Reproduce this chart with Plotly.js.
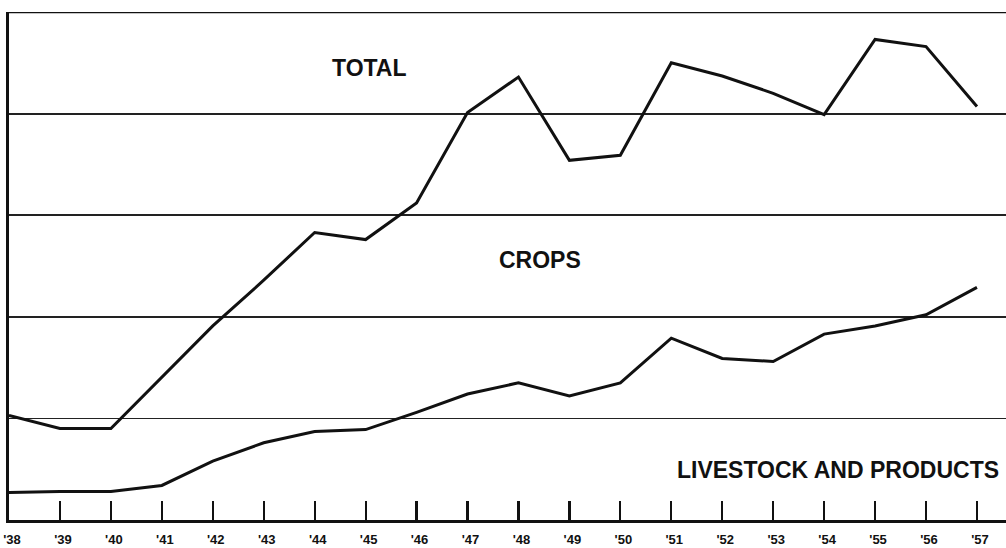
<!DOCTYPE html>
<html>
<head>
<meta charset="utf-8">
<script src="https://cdn.plot.ly/plotly-3.0.1.min.js"></script>
<style>html,body{margin:0;padding:0;background:#fff;}#chart{width:1006px;height:548px;}</style>
</head>
<body>
<div id="chart"></div>
<script>
// Years and tick labels
const years = [1938,1939,1940,1941,1942,1943,1944,1945,1946,1947,1948,1949,1950,1951,1952,1953,1954,1955,1956,1957];
const tickLabels = ["'38","'39","'40","'41","'42","'43","'44","'45","'46","'47","'48","'49","'50","'51","'52","'53","'54","'55","'56","'57"];
// Upper curve: total (in grid-line units)
const totalValues = [1.03,0.90,0.90,1.40,1.91,2.36,2.83,2.76,3.12,4.01,4.36,3.54,3.59,4.50,4.37,4.20,3.99,4.73,4.66,4.07];
// Lower curve: livestock and products (in grid-line units)
const livestockValues = [0.27,0.28,0.28,0.34,0.58,0.76,0.87,0.89,1.06,1.24,1.35,1.22,1.35,1.79,1.59,1.56,1.83,1.91,2.02,2.29];
const labelTotal = "TOTAL";
const labelCrops = "CROPS";
const labelLivestock = "LIVESTOCK AND PRODUCTS";

const lineStyle = {color:'#111', width:3};
const traces = [
  {x: years, y: totalValues, type:'scatter', mode:'lines', line: lineStyle, name: labelTotal, hoverinfo:'skip'},
  {x: years, y: livestockValues, type:'scatter', mode:'lines', line: lineStyle, name: labelLivestock, hoverinfo:'skip'}
];

const labelFont = {family:'Liberation Sans, Arial, sans-serif', size:23, color:'#111', weight:'bold'};

const layout = {
  width:1006, height:548,
  margin:{l:9, r:0, t:12, b:28},
  paper_bgcolor:'#fff', plot_bgcolor:'#fff',
  showlegend:false,
  xaxis:{
    range:[1938, 1957.57],
    tickvals: years, ticktext: tickLabels,
    ticks:'inside', ticklen:19, tickwidth:2.2, tickcolor:'#111',
    showgrid:false, zeroline:false,
    showline:true, linecolor:'#111', linewidth:3,
    tickfont:{family:'Liberation Sans, Arial, sans-serif', size:13, color:'#111', weight:'bold'},
    ticklabelstandoff: 5,
    ticklabelshift: 3,
    fixedrange:true
  },
  yaxis:{
    range:[0,5],
    tickvals:[1,2,3,4], showticklabels:false, ticks:'',
    showgrid:true, gridcolor:'#222', gridwidth:1.8,
    zeroline:false,
    showline:true, linecolor:'#111', linewidth:3,
    fixedrange:true
  },
  shapes:[
    {type:'line', xref:'paper', yref:'y', x0:0, x1:1, y0:5, y1:5, line:{color:'#111', width:2.6}}
  ],
  annotations:[
    {x:1945.085, y:4.444, xref:'x', yref:'y', text:labelTotal, showarrow:false, font:labelFont},
    {x:1948.42, y:2.564, xref:'x', yref:'y', text:labelCrops, showarrow:false, font:labelFont},
    {x:1954.28, y:0.492, xref:'x', yref:'y', text:labelLivestock, showarrow:false, font:labelFont}
  ]
};

Plotly.newPlot('chart', traces, layout, {displayModeBar:false, staticPlot:true});
</script>
</body>
</html>
